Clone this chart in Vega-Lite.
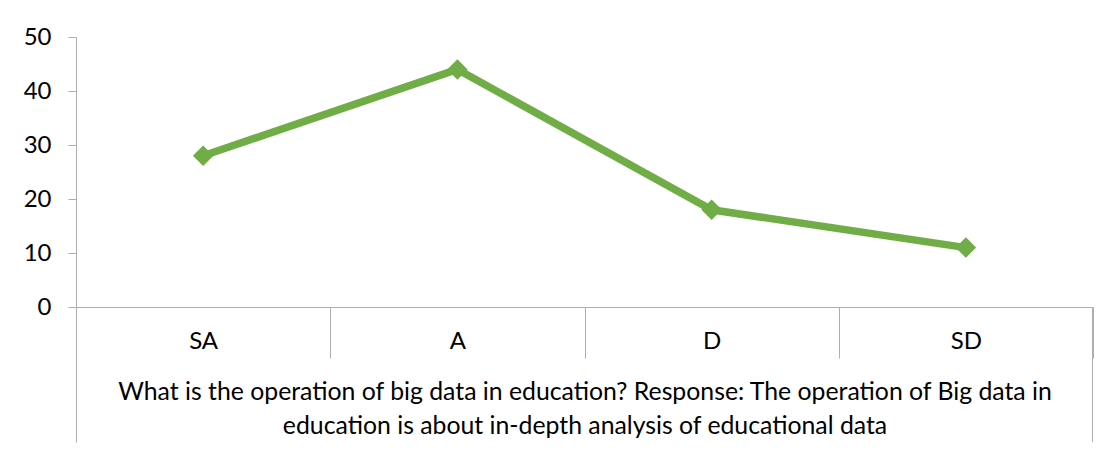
{
  "$schema": "https://vega.github.io/schema/vega-lite/v6.json",
  "width": 1017,
  "height": 270,
  "autosize": "none",
  "padding": {"left": 76, "top": 37, "right": 16, "bottom": 144},
  "background": "white",
  "config": {"view": {"stroke": null}, "font": "Lato", "axis": {"grid": false}},
  "data": {"values": [
    {"response": "SA", "value": 28},
    {"response": "A", "value": 44},
    {"response": "D", "value": 18},
    {"response": "SD", "value": 11}
  ]},
  "layer": [
    {
      "mark": {"type": "line", "color": "#70AD47", "strokeWidth": 7.5},
      "encoding": {
        "x": {"field": "response", "type": "nominal", "sort": ["SA", "A", "D", "SD"],
          "scale": {"paddingInner": 0, "paddingOuter": 0},
          "axis": {"orient": "bottom", "title": null, "tickBand": "extent", "tickSize": 51, "tickColor": "#ADADAD", "domainColor": "#ADADAD",
            "labelAngle": 0, "labelBaseline": "middle", "labelPadding": -17, "labelFontSize": 24, "labelColor": "#000000", "labelFont": "Lato"}},
        "y": {"field": "value", "type": "quantitative", "scale": {"domain": [0, 50]},
          "axis": {"title": null, "values": [0, 10, 20, 30, 40, 50], "tickSize": 8, "tickColor": "#ADADAD", "domainColor": "#ADADAD",
            "labelPadding": 17, "labelFontSize": 24, "labelColor": "#000000", "labelFont": "Lato"}}
      }
    },
    {
      "mark": {"type": "point", "shape": "diamond", "filled": true, "size": 420, "color": "#70AD47", "opacity": 1},
      "encoding": {
        "x": {"field": "response", "type": "nominal", "sort": ["SA", "A", "D", "SD"],
          "scale": {"paddingInner": 0, "paddingOuter": 0},
          "axis": {"orient": "bottom", "domain": false, "labels": false, "tickBand": "extent", "tickSize": 135, "tickColor": "#ADADAD",
            "tickOpacity": {"condition": {"test": "datum.value == null", "value": 1}, "value": 0},
            "title": ["What is the operation of big data in education? Response: The operation of Big data in", "education is about in-depth analysis of educational data"],
            "titleFont": "Lato", "titleFontSize": 24.8, "titleFontWeight": "normal", "titleColor": "#000000",
            "titleLineHeight": 34, "titleBaseline": "top", "titleY": 72}},
        "y": {"field": "value", "type": "quantitative", "scale": {"domain": [0, 50]}}
      }
    },
    {
      "transform": [{"filter": "datum.response === 'SD'"}],
      "mark": {"type": "rule", "color": "#ADADAD", "strokeWidth": 1, "clip": false},
      "encoding": {
        "x": {"field": "response", "type": "nominal", "sort": ["SA", "A", "D", "SD"], "bandPosition": 0.998, "axis": null},
        "y": {"datum": -0.2, "type": "quantitative", "scale": {"domain": [0, 50]}},
        "y2": {"datum": -25}
      }
    }
  ],
  "resolve": {"axis": {"x": "independent"}}
}
